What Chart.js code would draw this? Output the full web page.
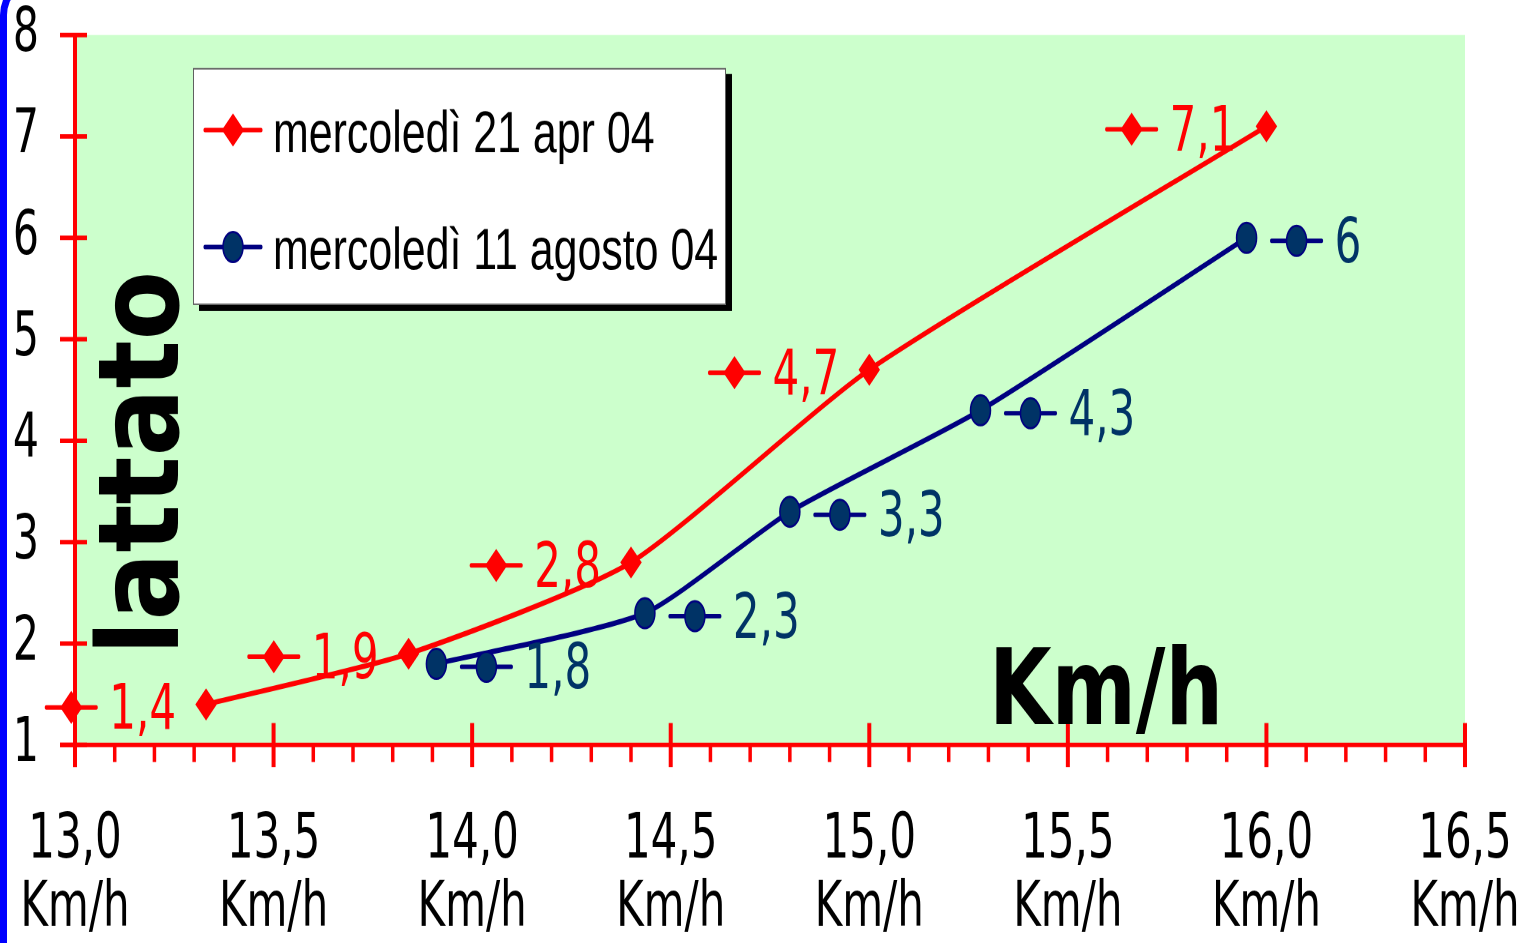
<!DOCTYPE html>
<html>
<head>
<meta charset="utf-8">
<script src="https://cdn.jsdelivr.net/npm/chart.js@4/dist/chart.umd.min.js"></script>
<style>
html,body{margin:0;padding:0;background:#ffffff;width:1532px;height:943px;overflow:hidden;}
#wrap{position:relative;width:1532px;height:943px;overflow:hidden;}
#frame{position:absolute;left:0;top:-24px;width:1700px;height:1100px;border-left:7px solid #0000FF;border-top:7px solid #0000FF;border-top-left-radius:39px;box-sizing:border-box;}
#c{position:absolute;left:0;top:0;transform-origin:0 0;}
</style>
</head>
<body>
<div id="wrap"><div id="frame"></div><canvas id="c" width="1532" height="629"></canvas></div>
<script>
// ---------- data ----------
const seriesNames = ["mercoledì 21 apr 04", "mercoledì 11 agosto 04"];
const aprSpeeds  = [13.33, 13.84, 14.40, 15.00, 16.00];
const aprLactate = [1.4, 1.9, 2.8, 4.7, 7.1];
const augSpeeds  = [13.91, 14.435, 14.80, 15.28, 15.95];
const augLactate = [1.8, 2.3, 3.3, 4.3, 6];
const xTickLabels = ["13,0", "13,5", "14,0", "14,5", "15,0", "15,5", "16,0", "16,5"];
const yTickLabels = ["1", "2", "3", "4", "5", "6", "7", "8"];
const unitLabel = "Km/h";
const yTitle = "lattato";
const xMin = 13, xMax = 16.5, xStep = 0.5, xMinorStep = 0.1;
const yMin = 1, yMax = 8, yStep = 1;

// ---------- geometry (picture is stretched vertically) ----------
const CW = 1532, CH = 629;
const K = 943 / CH;
const ry = v => v / K;
const canvas = document.getElementById('c');
canvas.style.transform = 'scaleY(' + K + ')';

const fmt = v => String(v).replace('.', ',');
const RED = '#FF0000', NAVY = '#000080', DARK = '#003366';

function drawMarker(ctx, style, x, y, r, fill, stroke) {
  ctx.beginPath();
  if (style === 'rectRot') {
    ctx.moveTo(x - r, y); ctx.lineTo(x, y - r); ctx.lineTo(x + r, y); ctx.lineTo(x, y + r); ctx.closePath();
  } else {
    ctx.arc(x, y, r, 0, Math.PI * 2);
  }
  ctx.fillStyle = fill; ctx.fill();
  ctx.lineWidth = 1.5; ctx.strokeStyle = stroke; ctx.stroke();
}
function drawKey(ctx, ds, x, y, half) {
  ctx.save();
  ctx.strokeStyle = ds.borderColor; ctx.lineWidth = ry(4.5); ctx.lineCap = 'round';
  ctx.beginPath(); ctx.moveTo(x - half, y); ctx.lineTo(x + half, y); ctx.stroke();
  drawMarker(ctx, ds.pointStyle, x, y, ds.pointRadius, ds.pointBackgroundColor, ds.pointBorderColor);
  ctx.restore();
}
function seg(ctx, x1, y1, x2, y2) { ctx.beginPath(); ctx.moveTo(x1, y1); ctx.lineTo(x2, y2); ctx.stroke(); }

const decor = {
  id: 'decor',
  beforeDraw(chart) {
    const {ctx, chartArea: a} = chart;
    ctx.save();
    ctx.fillStyle = '#CCFFCC';
    ctx.fillRect(a.left, a.top, a.right - a.left, a.bottom - a.top);
    ctx.restore();
  },
  beforeDatasetsDraw(chart) {
    const {ctx, scales: {x, y}} = chart;
    const x0 = x.getPixelForValue(xMin), y0 = y.getPixelForValue(yMin);
    const xr = x.getPixelForValue(xMax);
    ctx.save();
    ctx.strokeStyle = RED; ctx.lineCap = 'butt';
    // y axis
    ctx.lineWidth = 4;
    seg(ctx, x0, y.getPixelForValue(yMax), x0, y0 + ry(22));
    ctx.lineWidth = ry(4.5);
    yTickLabels.forEach((_, i) => { const py = y.getPixelForValue(yMin + i * yStep); seg(ctx, x0 - 15, py, x0 + 12, py); });
    // x axis
    seg(ctx, x0 - 15, y0, xr, y0);
    ctx.lineWidth = 4;
    for (let i = 1; i < xTickLabels.length; i++) {
      const px = x.getPixelForValue(xMin + i * xStep);
      seg(ctx, px, y0 - ry(22), px, y0 + ry(22));
    }
    ctx.lineWidth = 3.5;
    const nMinor = Math.round((xMax - xMin) / xMinorStep);
    const per = Math.round(xStep / xMinorStep);
    for (let j = 1; j < nMinor; j++) {
      if (j % per === 0) continue;
      const px = x.getPixelForValue(xMin + j * xMinorStep);
      seg(ctx, px, y0, px, y0 + ry(17));
    }
    // titles
    ctx.fillStyle = '#000'; ctx.textAlign = 'left'; ctx.textBaseline = 'alphabetic';
    ctx.font = 'bold 70px "DejaVu Sans"';
    let w = ctx.measureText(unitLabel).width;
    ctx.save(); ctx.translate(989, ry(724)); ctx.scale(234 / w, 1); ctx.fillText(unitLabel, 0, 0); ctx.restore();
    ctx.font = 'bold 112px "DejaVu Sans"';
    w = ctx.measureText(yTitle).width;
    ctx.save(); ctx.translate(178, ry(655)); ctx.rotate(-Math.PI / 2); ctx.scale(ry(384) / w, 1); ctx.fillText(yTitle, 0, 0); ctx.restore();
    ctx.restore();
  },
  afterDatasetsDraw(chart) {
    const ctx = chart.ctx;
    ctx.save();
    // data labels with legend key
    const sides = ['left', 'right'];
    const colors = [RED, DARK];
    const fs = 42;
    chart.data.datasets.forEach((ds, di) => {
      const meta = chart.getDatasetMeta(di);
      meta.data.forEach((pt, i) => {
        const txt = fmt(ds.data[i].y);
        ctx.font = fs + 'px "DejaVu Sans"';
        const w = ctx.measureText(txt).width;
        const textLeft = sides[di] === 'left' ? pt.x - 30 - w : pt.x + 88;
        const cy = pt.y + ry(3);
        drawKey(ctx, ds, textLeft - 38, cy, 25);
        ctx.fillStyle = colors[di]; ctx.textAlign = 'left'; ctx.textBaseline = 'alphabetic';
        ctx.font = fs + 'px "DejaVu Sans"';
        ctx.fillText(txt, textLeft, cy + 0.3645 * fs - 1);
      });
    });
    // legend box
    const lx = 193, ly = ry(68), lw = 533, lh = ry(237);
    ctx.fillStyle = '#000'; ctx.fillRect(lx + 6, ly + ry(6), lw, lh);
    ctx.fillStyle = '#fff'; ctx.fillRect(lx, ly, lw, lh);
    ctx.strokeStyle = '#606060'; ctx.lineWidth = 1; ctx.strokeRect(lx + 0.5, ly + 0.5, lw - 1, lh - 1);
    const rowY = [130, 247];
    const lfs = 39;
    chart.data.datasets.forEach((ds, di) => {
      const cy = ry(rowY[di]);
      drawKey(ctx, ds, 233, cy, 28);
      ctx.save();
      ctx.fillStyle = '#000'; ctx.textAlign = 'left'; ctx.textBaseline = 'alphabetic';
      ctx.font = lfs + 'px "Liberation Sans"';
      ctx.translate(273, cy + 0.358 * lfs + 1);
      ctx.scale(1.1, 1);
      ctx.fillText(ds.label, 0, 0);
      ctx.restore();
    });
    ctx.restore();
  }
};

Chart.defaults.font.family = '"DejaVu Sans"';
Chart.defaults.color = '#000';

new Chart(canvas, {
  type: 'line',
  data: {
    datasets: [
      {
        label: seriesNames[0],
        data: aprSpeeds.map((v, i) => ({x: v, y: aprLactate[i]})),
        borderColor: RED, backgroundColor: RED,
        pointStyle: 'rectRot', pointRadius: 10, pointBackgroundColor: RED, pointBorderColor: RED, pointBorderWidth: 1,
        borderWidth: 3.5, tension: 0.2, fill: false
      },
      {
        label: seriesNames[1],
        data: augSpeeds.map((v, i) => ({x: v, y: augLactate[i]})),
        borderColor: NAVY, backgroundColor: DARK,
        pointStyle: 'circle', pointRadius: 10, pointBackgroundColor: DARK, pointBorderColor: NAVY, pointBorderWidth: 1.5,
        borderWidth: 3.5, tension: 0.2, fill: false
      }
    ]
  },
  options: {
    responsive: false,
    devicePixelRatio: 2,
    animation: false,
    layout: {padding: {top: ry(35), right: CW - 1465, left: 0, bottom: 0}},
    plugins: {legend: {display: false}, tooltip: {enabled: false}},
    scales: {
      x: {
        type: 'linear', min: xMin, max: xMax, position: 'bottom',
        grid: {display: false, drawTicks: false}, border: {display: false},
        ticks: {
          stepSize: xStep, padding: 41.5, maxRotation: 0, autoSkip: false, color: '#000',
          font: {family: '"DejaVu Sans"', size: 42, lineHeight: 1.08},
          callback: (v, i) => [xTickLabels[i], unitLabel]
        },
        afterFit: s => { s.height = CH - ry(745); s.paddingLeft = 0; s.paddingRight = 0; }
      },
      y: {
        type: 'linear', min: yMin, max: yMax,
        grid: {display: false, drawTicks: false}, border: {display: false},
        ticks: {
          stepSize: yStep, padding: 36, color: '#000',
          font: {family: '"DejaVu Sans"', size: 41, lineHeight: 1},
          callback: (v, i) => yTickLabels[i]
        },
        afterFit: s => { s.width = 75; s.paddingTop = 0; s.paddingBottom = 0; }
      }
    }
  },
  plugins: [decor]
});
</script>
</body>
</html>
